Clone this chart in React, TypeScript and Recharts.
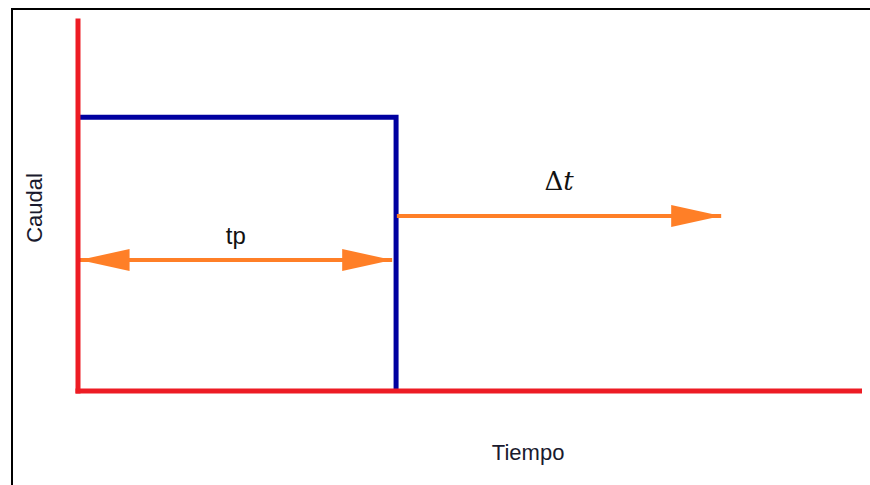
import React from "react";
import {
  LineChart,
  Line,
  XAxis,
  YAxis,
  ReferenceLine,
} from "recharts";

// Hidrograma (tiempo, caudal)
const hidroT = [0, 40.7, 40.7];
const hidroQ = [74, 74, 0];

// Flecha doble "tp"
const flechaTpX = [0.2, 40.2];
const flechaTpQ = 35.4;

// Flecha "Δt"
const flechaDtX = [40.8, 82.3];
const flechaDtQ = 47.3;

const RED = "#ED1C24";
const BLUE = "#0000A0";
const ORANGE = "#FF7F27";
const FONT = "'Liberation Sans', Arial, sans-serif";

const data = hidroT.map((t, i) => ({ t, q: hidroQ[i] }));

const arrowHead = (tipX: number, y: number, dir: number, key: string) => {
  const len = 50;
  const half = 11;
  const baseX = tipX - dir * len;
  return (
    <polygon
      key={key}
      points={`${tipX},${y} ${baseX},${y - half} ${baseX},${y + half}`}
      fill={ORANGE}
    />
  );
};

const makeArrow = (double: boolean) => (props: any) => {
  const { x1, y1, x2, y2 } = props;
  const left = Math.min(x1, x2);
  const right = Math.max(x1, x2);
  return (
    <g>
      <line x1={left} y1={y1} x2={right} y2={y2} stroke={ORANGE} strokeWidth={4} />
      {arrowHead(right, y1, 1, "r")}
      {double && arrowHead(left, y1, -1, "l")}
    </g>
  );
};

const DeltaLabel = (props: any) => {
  const vb = props.viewBox || {};
  const cx = vb.x + (vb.width || 0) / 2;
  return (
    <text
      x={cx}
      y={vb.y - 26}
      textAnchor="middle"
      fill="#111"
      fontSize={26}
      fontFamily="'DejaVu Serif', 'Liberation Serif', serif"
    >
      Δ<tspan fontStyle="italic">t</tspan>
    </text>
  );
};

const CaudalLabel = (props: any) => {
  const vb = props.viewBox || {};
  const cx = vb.x + 6.5;
  const cy = vb.y + vb.height / 2 + 2;
  return (
    <text
      x={cx}
      y={cy}
      transform={`rotate(-90, ${cx}, ${cy})`}
      textAnchor="middle"
      dominantBaseline="central"
      fill="#1a1a2e"
      fontSize={22}
      fontFamily={FONT}
    >
      Caudal
    </text>
  );
};

const TiempoLabel = (props: any) => {
  const vb = props.viewBox || {};
  return (
    <text
      x={vb.x + vb.width * 0.576}
      y={vb.y + 69}
      textAnchor="middle"
      fill="#1a1a2e"
      fontSize={22}
      fontFamily={FONT}
    >
      Tiempo
    </text>
  );
};

export default function App() {
  return (
    <div style={{ position: "absolute", left: 0, top: 0, width: 870, height: 485, background: "#fff" }}>
      <div
        style={{
          position: "absolute",
          left: 11,
          top: 8,
          width: 870,
          height: 490,
          borderTop: "2px solid #000",
          borderLeft: "2px solid #000",
        }}
      />
      <div style={{ position: "absolute", left: 0, top: 0 }}>
        <LineChart
          width={870}
          height={485}
          data={data}
          margin={{ top: 21, right: 10.5, bottom: 34, left: 28 }}
        >
          <XAxis
            type="number"
            dataKey="t"
            domain={[0, 100]}
            height={60}
            tick={false}
            tickLine={false}
            axisLine={{ stroke: RED, strokeWidth: 5, strokeLinecap: "square" }}
            label={{ content: TiempoLabel }}
          />
          <YAxis
            type="number"
            domain={[0, 100]}
            width={50}
            tick={false}
            tickLine={false}
            axisLine={{ stroke: RED, strokeWidth: 5, strokeLinecap: "square" }}
            label={{ content: CaudalLabel }}
          />
          <Line
            type="linear"
            dataKey="q"
            stroke={BLUE}
            strokeWidth={5}
            dot={false}
            isAnimationActive={false}
          />
          <ReferenceLine
            segment={[
              { x: flechaTpX[0], y: flechaTpQ },
              { x: flechaTpX[1], y: flechaTpQ },
            ]}
            shape={makeArrow(true)}
            label={{
              value: "tp",
              position: "top",
              offset: 16,
              fill: "#111",
              fontSize: 24,
              fontFamily: FONT,
            }}
          />
          <ReferenceLine
            segment={[
              { x: flechaDtX[0], y: flechaDtQ },
              { x: flechaDtX[1], y: flechaDtQ },
            ]}
            shape={makeArrow(false)}
            label={{ content: DeltaLabel }}
          />
        </LineChart>
      </div>
    </div>
  );
}
